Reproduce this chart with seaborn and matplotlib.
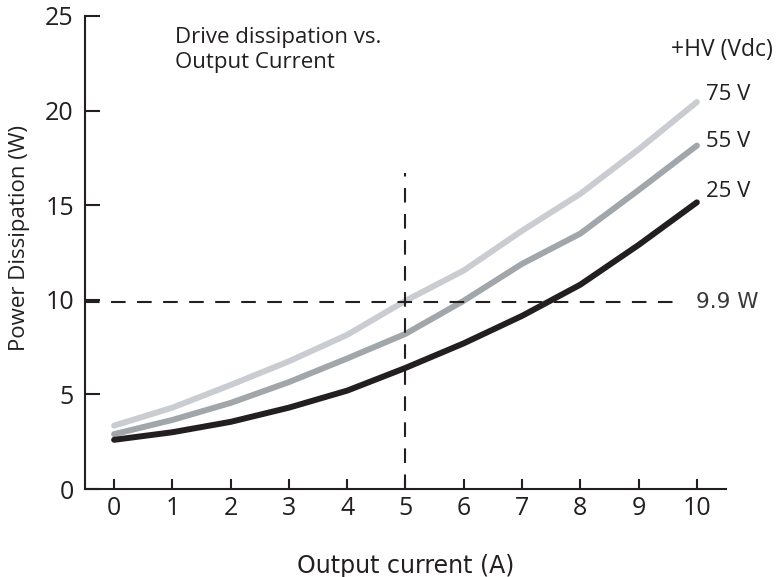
import pandas as pd
from matplotlib import pyplot as plt
import seaborn as sns
import numpy as np

# values
current = [0, 1, 2, 3, 4, 5, 6, 7, 8, 9, 10]
p_75v = [3.35, 4.3, 5.5, 6.75, 8.15, 9.95, 11.55, 13.65, 15.6, 17.95, 20.45]
p_55v = [2.9, 3.65, 4.55, 5.65, 6.9, 8.2, 9.95, 11.9, 13.5, 15.8, 18.15]
p_25v = [2.6, 3.0, 3.55, 4.3, 5.2, 6.4, 7.7, 9.15, 10.8, 12.9, 15.15]
voltages = ['75 V', '55 V', '25 V']
colors = ['#c9ccd1', '#a0a6aa', '#231f20']
limit_w = 9.9
limit_a = 5

df = pd.DataFrame({
    'current': current * 3,
    'power': p_75v + p_55v + p_25v,
    'hv': [v for v in voltages for _ in current],
})

sns.set_style('white')
plt.rcParams['font.family'] = ['Open Sans', 'DejaVu Sans']

fig = plt.figure(figsize=(7.81, 5.77), dpi=100)
ax = fig.add_axes([0.1088, 0.1525, 0.8208, 0.8198])

sns.lineplot(data=df, x='current', y='power', hue='hv', palette=colors,
             hue_order=voltages, linewidth=4.3, legend=False, ax=ax,
             solid_capstyle='round', solid_joinstyle='round')

# reference lines at 9.9 W and 5 A
ax.plot([-0.5, 9.67], [limit_w, limit_w], color='#231f20', lw=1.5,
        dashes=(7, 5.5))
ax.plot([limit_a, limit_a], [0, 16.7], color='#231f20', lw=1.5,
        dashes=(7, 5.5))
ax.text(9.98, limit_w, '9.9 W', fontsize=15.5, color='#3a3a3a', va='center',
        family='DejaVu Sans')

ax.set_xlim(-0.5, 10.5)
ax.set_ylim(0, 25)
ax.set_xticks(range(0, 11))
ax.set_yticks([0, 5, 10, 15, 20, 25])

for s in ['top', 'right']:
    ax.spines[s].set_visible(False)
for s in ['left', 'bottom']:
    ax.spines[s].set_color('#231f20')
    ax.spines[s].set_linewidth(1.5)

ax.tick_params(axis='y', direction='in', length=11, width=1.5,
               labelsize=18, pad=8, colors='#231f20')
ax.tick_params(axis='x', direction='in', length=7.5, width=1.5,
               labelsize=18, pad=5, colors='#231f20')
ax.tick_params(left=True, bottom=True)

ax.set_ylabel('Power Dissipation (W)', fontsize=16, color='#231f20')
ax.yaxis.set_label_coords(-0.085, 0.53)
ax.set_xlabel('Output current (A)', fontsize=17, color='#231f20',
              labelpad=24, family='DejaVu Sans')

ax.text(1.05, 24.4, 'Drive dissipation vs.\nOutput Current', fontsize=16,
        color='#231f20', va='top', linespacing=1.25)
ax.text(9.55, 23.2, '+HV (Vdc)', fontsize=16.5, color='#231f20', va='center')
ax.text(10.15, 20.85, '75 V', fontsize=16, color='#231f20', va='center')
ax.text(10.15, 18.35, '55 V', fontsize=16, color='#231f20', va='center')
ax.text(10.15, 15.7, '25 V', fontsize=16, color='#231f20', va='center')

fig.savefig('out.png', dpi=100)
